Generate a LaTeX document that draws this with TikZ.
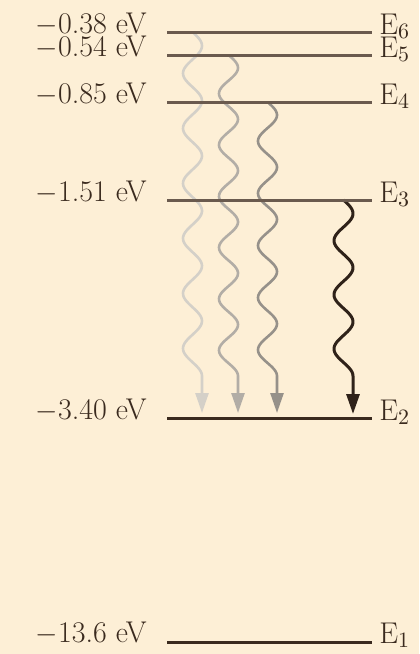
\documentclass[tikz,border=0pt]{standalone}
\usetikzlibrary{arrows.meta}
\definecolor{bgc}{HTML}{FDEFD6}
\definecolor{lvlA}{HTML}{6A5A4E}
\definecolor{lvlB}{HTML}{3A2A1E}
\definecolor{wA}{HTML}{D4D0C8}
\definecolor{wB}{HTML}{B2ADA6}
\definecolor{wC}{HTML}{96918A}
\definecolor{wD}{HTML}{2F2219}
\begin{document}
\begin{tikzpicture}[x=0.5pt,y=-0.5pt,
  font=\fontsize{15}{18}\selectfont,
  lvl/.style={line width=1.5pt,draw=lvlA},
  lvldark/.style={line width=1.5pt,draw=lvlB},
  wave/.style={line width=1.3pt,line join=round,-{Triangle[length=10pt,width=6.5pt]}},
  vlab/.style={anchor=base east,inner sep=0pt,text=lvlB},
  elab/.style={anchor=base west,inner sep=0pt,text=lvlB}]
\fill[bgc] (0,0) rectangle (419,654);
\useasboundingbox (0,0) rectangle (419,654);
% level end points
\foreach \n/\y in {6/32,5/55,4/102,3/200,2/418,1/642}{
  \coordinate (L\n) at (167,\y);
  \coordinate (R\n) at (372,\y);
}
% arrow tips
\coordinate (t1) at (202,413);
\coordinate (t2) at (238,413);
\coordinate (t3) at (277,413);
\coordinate (t4) at (353,414);
% wavy arrows
\draw[wave,draw=wA] plot[domain=32:376,samples=200,variable=\t]
  ({192.5+9.5*sin(6.541*(\t-32))},\t) -- (t1);
\draw[wave,draw=wB] plot[domain=55:376,samples=200,variable=\t]
  ({228.5+9.5*sin(7.009*(\t-55))},\t) -- (t2);
\draw[wave,draw=wC] plot[domain=102:376,samples=200,variable=\t]
  ({267.5+9.5*sin(6.898*(\t-102))},\t) -- (t3);
\draw[wave,line width=1.5pt,draw=wD] plot[domain=200:376,samples=150,variable=\t]
  ({343.5+9.5*sin(6.648*(\t-200))},\t) -- (t4);
% levels
\foreach \n in {6,5,4,3}{\draw[lvl] (L\n) -- (R\n);}
\foreach \n in {2,1}{\draw[lvldark] (L\n) -- (R\n);}
% energy labels
\node[vlab] (v6) at (147,33) {$-$0.38 eV};
\node[vlab] (v5) at (147,56) {$-$0.54 eV};
\node[vlab] (v4) at (147,103) {$-$0.85 eV};
\node[vlab] (v3) at (147,201) {$-$1.51 eV};
\node[vlab] (v2) at (147,419) {$-$3.40 eV};
\node[vlab] (v1) at (147,642) {$-$13.6 eV};
% level names
\node[elab] (e6) at (379,34) {E$_6$};
\node[elab] (e5) at (379,57) {E$_5$};
\node[elab] (e4) at (379,104) {E$_4$};
\node[elab] (e3) at (379,202) {E$_3$};
\node[elab] (e2) at (379,420) {E$_2$};
\node[elab] (e1) at (379,643) {E$_1$};
\end{tikzpicture}
\end{document}
